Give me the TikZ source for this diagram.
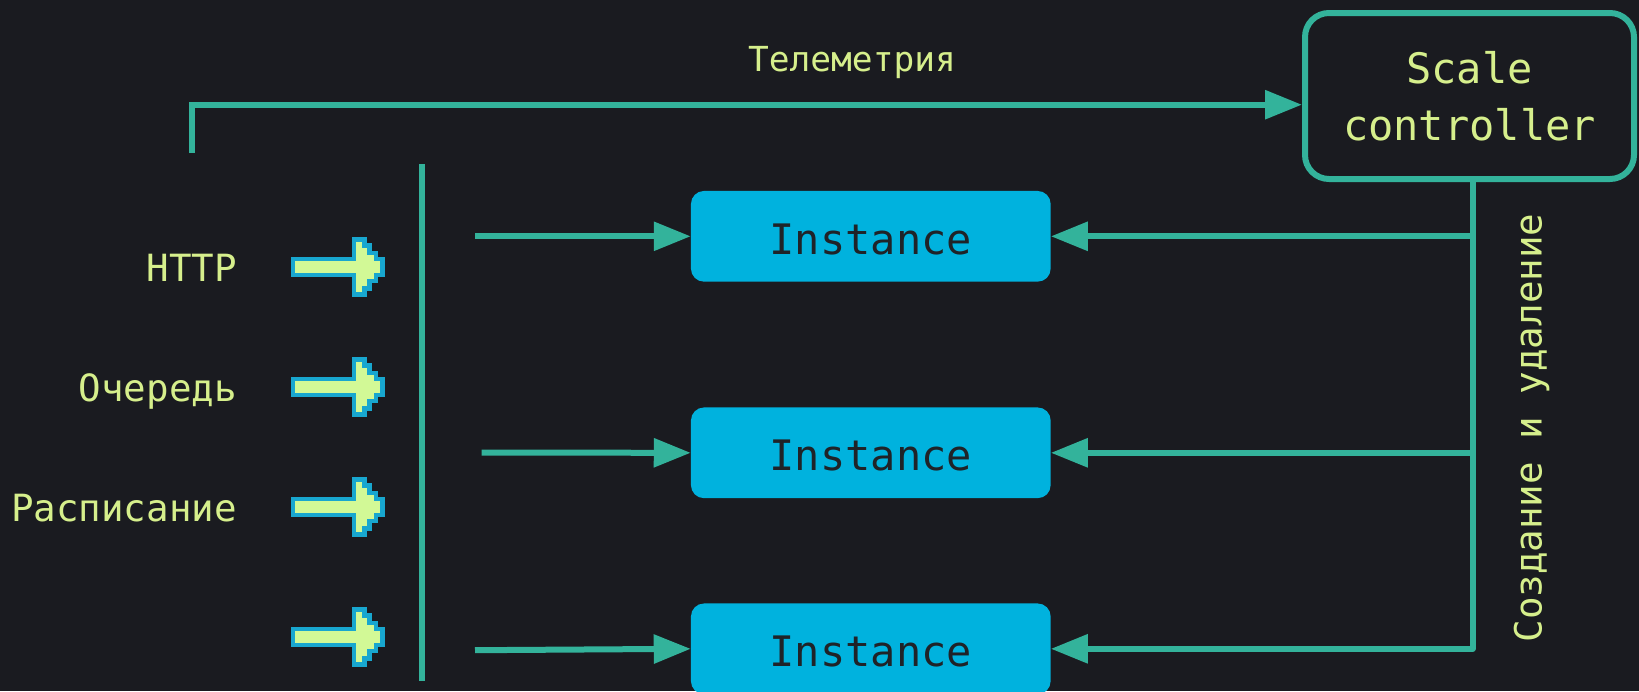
\documentclass[tikz,border=0pt]{standalone}
\usepackage{fontspec}
\newfontfamily\codefont{DejaVu Sans Mono}
\usetikzlibrary{arrows.meta}

\definecolor{bg}{HTML}{1A1B20}
\definecolor{wire}{HTML}{33B39B}
\definecolor{instfill}{HTML}{00B2DE}
\definecolor{insttext}{HTML}{1F2328}
\definecolor{lbl}{HTML}{D6EF8C}
\definecolor{pixfill}{HTML}{D2F996}
\definecolor{pixline}{HTML}{18A7CF}

\tikzset{
  wire/.style={draw=wire, line width=6pt},
  tip/.style={-{Triangle[length=37pt,width=28pt]}},
  instbox/.style={fill=instfill, rounded corners=13pt, inner sep=0pt,
    minimum width=359.7pt, minimum height=90.7pt,
    text height=35.4pt, text depth=0pt,
    text=insttext, font=\codefont\fontsize{42}{50}\selectfont},
  ctrlbox/.style={draw=wire, line width=6pt, rounded corners=24pt, inner sep=0pt,
    minimum width=329pt, minimum height=166pt, align=center,
    text=lbl, font=\codefont\fontsize{42}{56.6}\selectfont},
  srclabel/.style={text=lbl, inner sep=0pt, anchor=base east,
    font=\codefont\fontsize{37.5}{45}\selectfont},
  pixarrow/.pic={
    \draw[draw=pixline, fill=pixfill, line width=4.7pt, miter limit=10]
      (2.3,-8) -- (63.3,-8) -- (63.3,-27.3) -- (73.7,-27.3) -- (73.7,-21.3)
      -- (78.7,-21.3) -- (78.7,-14) -- (85.3,-14) -- (85.3,-8) -- (92,-8)
      -- (92,8) -- (85.3,8) -- (85.3,14) -- (78.7,14) -- (78.7,21.3)
      -- (73.7,21.3) -- (73.7,27.3) -- (63.3,27.3) -- (63.3,8) -- (2.3,8) -- cycle;
  }
}

\begin{document}
\begin{tikzpicture}[x=1pt, y=-1pt]
  % canvas
  \fill[bg] (0,0) rectangle (1639,691);
  \useasboundingbox (0,0) rectangle (1639,691);

  % scale controller and instances
  \node[ctrlbox] (sc) at (1469.5,96) {Scale\\controller};
  \node[instbox] (i1) at (870.8,236.3) {Instance};
  \node[instbox] (i2) at (870.8,452.8) {Instance};
  \node[instbox] (i3) at (870.8,648.8) {Instance};

  % telemetry feed into the controller
  \coordinate (t0) at (191.8,153);
  \coordinate (t1) at (191.8,104.7);
  \draw[wire, tip] (t0) -- (t1) -- (t1 -| sc.west);
  \node[text=lbl, inner sep=0pt, anchor=base,
        font=\codefont\fontsize{34.5}{40}\selectfont] (tel) at (852,71) {Телеметрия};

  % create / delete bus from the controller
  \coordinate (bus) at ([xshift=3pt]sc.south);
  \draw[wire, tip, line join=round] (bus) |- (i3.east);
  \draw[wire, tip] (bus |- i1.east) -- (i1.east);
  \draw[wire, tip] (bus |- i2.east) -- (i2.east);
  \node[text=lbl, inner sep=0pt, anchor=base, rotate=90,
        font=\codefont\fontsize{37.5}{45}\selectfont] (cd) at (1541.7,428) {Создание и удаление};

  % trigger separator
  \coordinate (sepA) at (421.5,164);
  \coordinate (sepB) at (421.5,681);
  \draw[wire] (sepA) -- (sepB);

  % requests routed to instances
  \coordinate (s1) at (475,236.3);
  \coordinate (s2) at (481.7,452.6);
  \coordinate (s3) at (475,650.2);
  \draw[wire, tip] (s1) -- (i1.west);
  \draw[wire, tip] (s2) -- (i2.west);
  \draw[wire, tip] (s3) -- (i3.west);

  % trigger sources
  \node[srclabel] (http) at (237,281.7) {HTTP};
  \node[srclabel] (queue) at (237,401.7) {Очередь};
  \node[srclabel] (sched) at (237,521.7) {Расписание};
  \pic at (290.7,267) {pixarrow};
  \pic at (290.7,387) {pixarrow};
  \pic at (290.7,507) {pixarrow};
  \pic at (290.7,637) {pixarrow};
\end{tikzpicture}
\end{document}
